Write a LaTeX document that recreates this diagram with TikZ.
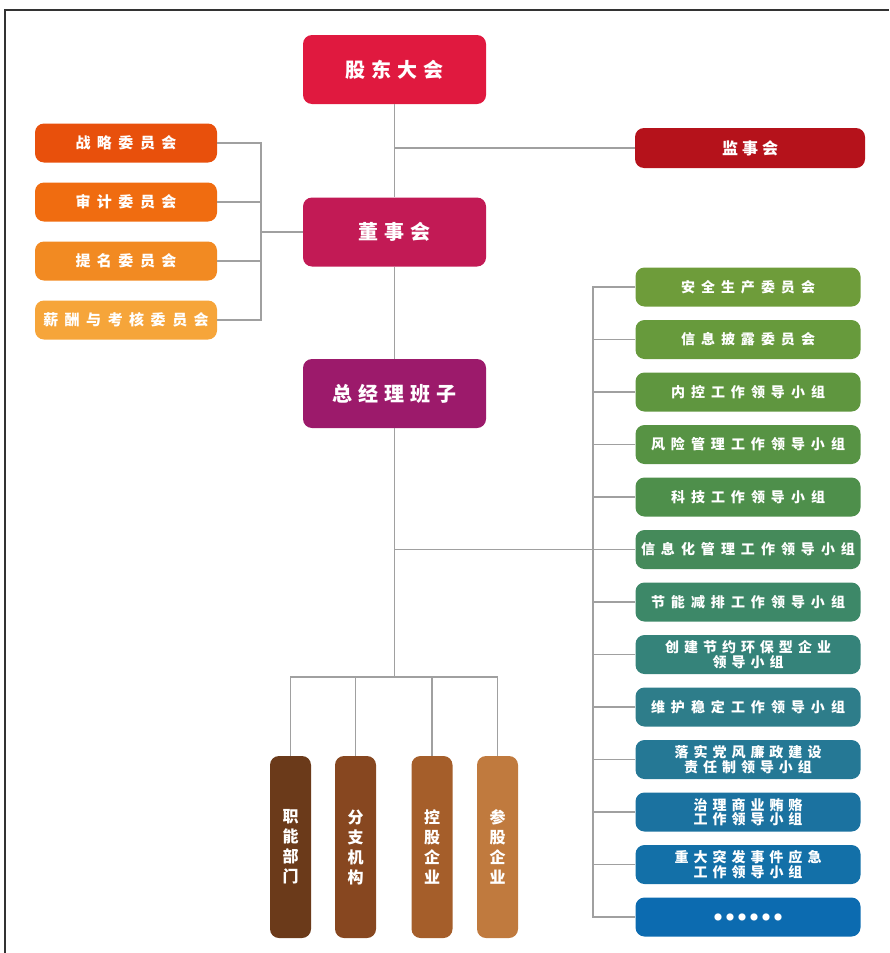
\documentclass[tikz,border=0pt]{standalone}
\usepackage{fontspec}
\newfontfamily\cjk{Noto Sans CJK SC}
\makeatletter
\newcommand\spaced[2]{\def\sp@sep{}\@tfor\sp@c:=#2\do{\sp@sep\sp@c\def\sp@sep{\kern#1}}}
\makeatother
\definecolor{cGD}{HTML}{E0193F}
\definecolor{cDS}{HTML}{C21A55}
\definecolor{cZJ}{HTML}{9C1A6B}
\definecolor{cJS}{HTML}{B5121B}
\definecolor{cL1}{HTML}{E8500C}
\definecolor{cL2}{HTML}{F06C10}
\definecolor{cL3}{HTML}{F28A22}
\definecolor{cL4}{HTML}{F6A53A}
\definecolor{cR1}{HTML}{6E9C3A}
\definecolor{cR2}{HTML}{679A3C}
\definecolor{cR3}{HTML}{5F963F}
\definecolor{cR4}{HTML}{579344}
\definecolor{cR5}{HTML}{4E8F4B}
\definecolor{cR6}{HTML}{458A5A}
\definecolor{cR7}{HTML}{3D8868}
\definecolor{cR8}{HTML}{35837A}
\definecolor{cR9}{HTML}{2E7D8A}
\definecolor{cR10}{HTML}{257895}
\definecolor{cR11}{HTML}{1B72A0}
\definecolor{cR12}{HTML}{1370A8}
\definecolor{cR13}{HTML}{0C6BB0}
\definecolor{cB1}{HTML}{6B3A1A}
\definecolor{cB2}{HTML}{874720}
\definecolor{cB3}{HTML}{A55E2A}
\definecolor{cB4}{HTML}{C07A3E}
\definecolor{lineg}{HTML}{A0A0A0}
\begin{document}
\begin{tikzpicture}[x=1pt,y=-1pt,
  box/.style={rounded corners=9pt, inner sep=0pt, text=white, align=center},
  topbox/.style={box, minimum width=183pt, minimum height=69pt,
    font=\cjk\bfseries\fontsize{20}{24}\selectfont},
  leftbox/.style={box, minimum width=182pt, minimum height=39pt,
    font=\cjk\bfseries\fontsize{15}{18}\selectfont},
  rightbox/.style={box, minimum width=225pt, minimum height=39pt,
    font=\cjk\bfseries\fontsize{14}{14.5}\selectfont},
  botbox/.style={box, minimum width=41pt, minimum height=182pt,
    font=\cjk\bfseries\fontsize{16}{20}\selectfont},
  conn/.style={draw=lineg, line width=1.5pt}]
\useasboundingbox (0,0) rectangle (889,953);
\draw[line width=2pt, black!80] (5,953) -- (5,10) -- (889,10);

% top column
\node[topbox, fill=cGD] (gd) at (394.5,69.5) {\spaced{6pt}{股东大会}};
\node[topbox, fill=cDS] (dsh) at (394.5,232) {\spaced{6pt}{董事会}};
\node[topbox, fill=cZJ] (zjl) at (394.5,393.5) {\spaced{6pt}{总经理班子}};
\node[box, fill=cJS, minimum width=230pt, minimum height=40pt,
  font=\cjk\bfseries\fontsize{16}{18}\selectfont] (jsh) at (750,148) {\spaced{4pt}{监事会}};

% left committees
\node[leftbox, fill=cL1] (c1) at (126,143) {\spaced{6.5pt}{战略委员会}};
\node[leftbox, fill=cL2] (c2) at (126,202) {\spaced{6.5pt}{审计委员会}};
\node[leftbox, fill=cL3] (c3) at (126,261) {\spaced{6.5pt}{提名委员会}};
\node[leftbox, fill=cL4] (c4) at (126,320) {\spaced{6.5pt}{薪酬与考核委员会}};

% right groups
\node[rightbox, fill=cR1] (r1) at (748,287) {\spaced{6pt}{安全生产委员会}};
\node[rightbox, fill=cR2] (r2) at (748,339.5) {\spaced{6pt}{信息披露委员会}};
\node[rightbox, fill=cR3] (r3) at (748,392) {\spaced{6pt}{内控工作领导小组}};
\node[rightbox, fill=cR4] (r4) at (748,444.5) {\spaced{6pt}{风险管理工作领导小组}};
\node[rightbox, fill=cR5] (r5) at (748,497) {\spaced{6pt}{科技工作领导小组}};
\node[rightbox, fill=cR6] (r6) at (748,549.5) {\spaced{6pt}{信息化管理工作领导小组}};
\node[rightbox, fill=cR7] (r7) at (748,602) {\spaced{6pt}{节能减排工作领导小组}};
\node[rightbox, fill=cR8] (r8) at (748,654.5) {\spaced{5pt}{创建节约环保型企业}\\\spaced{5pt}{领导小组}};
\node[rightbox, fill=cR9] (r9) at (748,707) {\spaced{6pt}{维护稳定工作领导小组}};
\node[rightbox, fill=cR10] (r10) at (748,759.5) {\spaced{5pt}{落实党风廉政建设}\\\spaced{5pt}{责任制领导小组}};
\node[rightbox, fill=cR11] (r11) at (748,812) {\spaced{5pt}{治理商业贿赂}\\\spaced{5pt}{工作领导小组}};
\node[rightbox, fill=cR12] (r12) at (748,864.5) {\spaced{5pt}{重大突发事件应急}\\\spaced{5pt}{工作领导小组}};
\node[rightbox, fill=cR13, font=\cjk\fontsize{8}{10}\selectfont] (r13) at (748,917) {\spaced{4pt}{●●●●●●}};

% bottom units
\node[botbox, fill=cB1] (b1) at (290.5,847) {职\\能\\部\\门};
\node[botbox, fill=cB2] (b2) at (355.5,847) {分\\支\\机\\构};
\node[botbox, fill=cB3] (b3) at (432,847) {控\\股\\企\\业};
\node[botbox, fill=cB4] (b4) at (497.5,847) {参\\股\\企\\业};

% connectors: main column
\draw[conn] (gd.south) -- (dsh.north);
\draw[conn] (dsh.south) -- (zjl.north);
\coordinate (bj) at (394.5,677);
\draw[conn] (zjl.south) -- (bj);
\draw[conn] (jsh.west) -- (jsh.west -| gd.south);

% left bracket
\coordinate (lb) at (261,232);
\draw[conn] (c1.east) -| (lb);
\draw[conn] (c4.east) -| (lb);
\draw[conn] (c2.east) -- (c2.east -| lb);
\draw[conn] (c3.east) -- (c3.east -| lb);
\draw[conn] (lb) -- (dsh.west);

% right bracket
\coordinate (rb) at (593,549.5);
\draw[conn] (r1.west) -| (rb);
\draw[conn] (r13.west) -| (rb);
\foreach \i in {2,...,12} {\draw[conn] (r\i.west) -- (r\i.west -| rb);}
\draw[conn] (rb) -- (rb -| zjl.south);

% bottom bracket
\draw[conn] (b1.north) |- (bj);
\draw[conn] (b4.north) |- (bj);
\draw[conn] (b2.north) -- (b2.north |- bj);
\draw[conn] (b3.north) -- (b3.north |- bj);
\end{tikzpicture}
\end{document}
